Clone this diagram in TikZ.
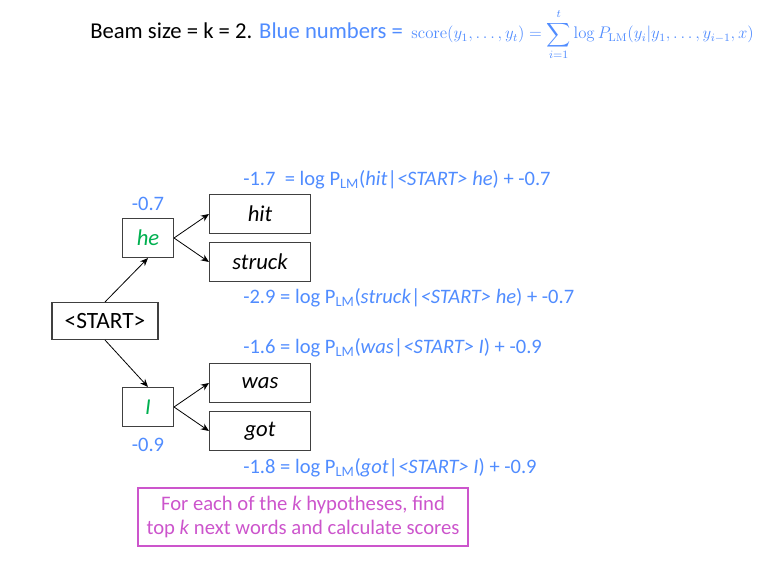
\documentclass[tikz,border=0pt]{standalone}
\usepackage[no-math]{fontspec}
\setmainfont{Carlito}
\usepackage{amsmath}
\usetikzlibrary{arrows.meta, positioning}
\definecolor{scoreblue}{RGB}{80,140,255}
\definecolor{wordgreen}{RGB}{0,176,80}
\definecolor{notepink}{RGB}{204,85,204}

\begin{document}
\begin{tikzpicture}[
    x=0.75pt, y=-0.75pt, >={Stealth[length=6pt,width=5pt]},
    word/.style ={rectangle, draw=black!75, line width=0.8pt, inner sep=0pt, minimum width=75.75pt, minimum height=29.25pt, font=\fontsize{17}{20}\selectfont\itshape},
    first/.style={rectangle, draw=black!75, line width=0.8pt, inner sep=0pt, minimum width=38.25pt, minimum height=29.25pt, font=\fontsize{17}{20}\selectfont\itshape, text=wordgreen},
    root/.style ={rectangle, draw=black!75, line width=0.8pt, inner sep=0pt, minimum width=79.5pt, minimum height=27.75pt, font=\fontsize{17.5}{20}\selectfont},
    score/.style={text=scoreblue, inner sep=0pt, font=\fontsize{15.4}{18}\selectfont},
    note/.style ={rectangle, draw=notepink, line width=0.8pt, text=notepink, align=center, minimum width=247.5pt, minimum height=43.5pt, font=\fontsize{15.5}{18}\selectfont},
    edge/.style ={->, line width=0.6pt},
]
\useasboundingbox (0,0) rectangle (777,573);
% title line
\node[anchor=base west, inner sep=0pt, font=\fontsize{17}{20}\selectfont] (title) at (90,39)
  {Beam size = k = 2. \textcolor{scoreblue}{Blue numbers =}};
\node[anchor=base west, inner sep=0pt, text=scoreblue, font=\fontsize{12}{14}\selectfont] (formula) at ([xshift=6pt]title.base east)
  {\scalebox{1.05}{$\displaystyle \mathrm{score}(y_1,\ldots,y_t)=\sum_{i=1}^{t}\log P_{\mathrm{LM}}(y_i|y_1,\ldots,y_{i-1},x)$}};
% tree
\node[root]  (start)  at (105,321) {<START>};
\node[first] (he)     at (148,238) {he};
\node[first] (I)      at (148,407) {I};
\node[word]  (hit)    at (260,214) {hit};
\node[word]  (struck) at (260,262) {struck};
\node[word]  (was)    at (260,383) {was};
\node[word]  (got)    at (260,431) {got};
\node[score, above=5pt of he] (heval) {-0.7};
\node[score, below=8pt of I]  (Ival)  {-0.9};
% scores of the next words
\node[score, anchor=west] (hitval)    at (243,180) {-1.7\ \ = log P\textsubscript{LM}(\textit{hit}|\textit{<START> he}) + -0.7};
\node[score, anchor=west] (struckval) at (243,298) {-2.9 = log P\textsubscript{LM}(\textit{struck}|\textit{<START> he}) + -0.7};
\node[score, anchor=west] (wasval)    at (243,348) {-1.6 = log P\textsubscript{LM}(\textit{was}|\textit{<START> I}) + -0.9};
\node[score, anchor=west] (gotval)    at (243,468) {-1.8 = log P\textsubscript{LM}(\textit{got}|\textit{<START> I}) + -0.9};
\node[note] (step) at (303,517) {For each of the \textit{k} hypotheses, find\\ top \textit{k} next words and calculate scores};
\draw[edge] (start.north) -- (he.south);
\draw[edge] (start.south) -- (I.north);
\draw[edge] (he.east) -- (hit.west);
\draw[edge] (he.east) -- (struck.west);
\draw[edge] (I.east) -- (was.west);
\draw[edge] (I.east) -- (got.west);
\end{tikzpicture}
\end{document}
